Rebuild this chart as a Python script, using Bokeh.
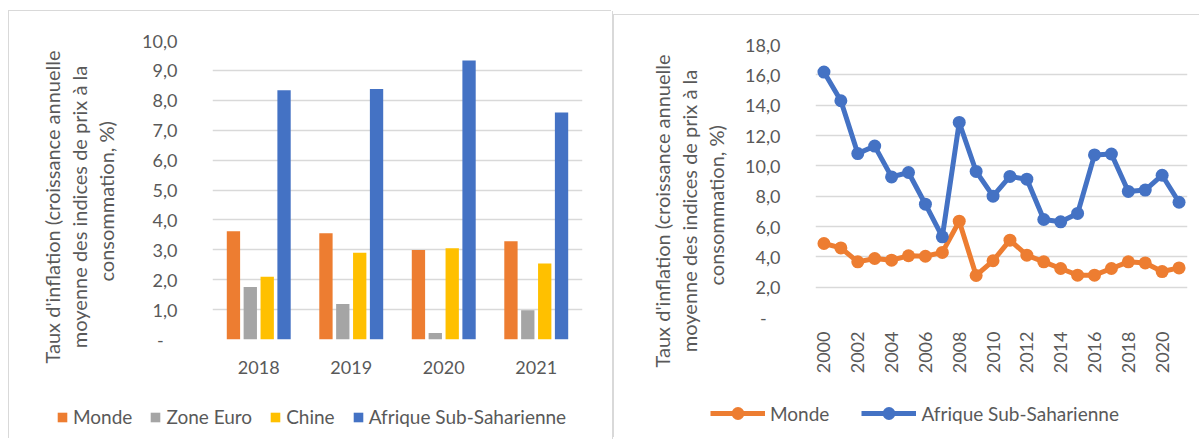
import math
from bokeh.plotting import figure
from bokeh.models import (FactorRange, Range1d, FixedTicker, Legend, LegendItem,
                          ColumnDataSource, Spacer)
from bokeh.transform import dodge
from bokeh.layouts import row, column
from bokeh.embed import file_html
from bokeh.resources import INLINE

# ---------------- data: bar chart ----------------
BAR_YEARS = ["2018", "2019", "2020", "2021"]
BAR_SERIES = ["Monde", "Zone Euro", "Chine", "Afrique Sub-Saharienne"]
monde_bar = [3.62, 3.55, 2.99, 3.29]
zone_euro_bar = [1.76, 1.19, 0.22, 0.98]
chine_bar = [2.10, 2.90, 3.05, 2.54]
afrique_bar = [8.34, 8.38, 9.33, 7.59]
BAR_Y_TICKS = [0, 1, 2, 3, 4, 5, 6, 7, 8, 9, 10]
BAR_Y_LABELS = ["-\u00a0\u00a0\u00a0", "1,0", "2,0", "3,0", "4,0", "5,0", "6,0", "7,0", "8,0", "9,0", "10,0"]

# ---------------- data: line chart ----------------
LINE_YEARS = [2000, 2001, 2002, 2003, 2004, 2005, 2006, 2007, 2008, 2009, 2010,
              2011, 2012, 2013, 2014, 2015, 2016, 2017, 2018, 2019, 2020, 2021]
monde_line = [4.88, 4.59, 3.67, 3.89, 3.78, 4.07, 4.04, 4.29, 6.35, 2.77, 3.74,
              5.10, 4.11, 3.67, 3.23, 2.79, 2.79, 3.23, 3.67, 3.60, 3.03, 3.27]
afrique_line = [16.18, 14.29, 10.81, 11.30, 9.27, 9.56, 7.47, 5.32, 12.86, 9.63, 8.00,
                9.30, 9.12, 6.46, 6.31, 6.86, 10.72, 10.78, 8.31, 8.40, 9.38, 7.60]
LINE_SERIES = ["Monde", "Afrique Sub-Saharienne"]
LINE_X_TICKS = [2000, 2002, 2004, 2006, 2008, 2010, 2012, 2014, 2016, 2018, 2020]
LINE_Y_TICKS = [0, 2, 4, 6, 8, 10, 12, 14, 16, 18]
LINE_Y_LABELS = ["-\u00a0\u00a0\u00a0", "2,0", "4,0", "6,0", "8,0", "10,0", "12,0", "14,0", "16,0", "18,0"]

Y_TITLE_LINES = ["Taux d'inflation (croissance annuelle",
                 "moyenne des indices de prix à la",
                 "consommation, %)"]

FONT = "Lato"
TXT = "#595959"
GRID = "#d9d9d9"
C_MONDE = "#ED7D31"
C_ZONE = "#A5A5A5"
C_CHINE = "#FFC000"
C_AFR = "#4472C4"

# leading no-break spaces centre the shorter title lines under the longest one
TITLE_LEAD = [0, 3, 16]
Y_TITLE = "\n".join("\u00a0" * n + s for n, s in zip(TITLE_LEAD, Y_TITLE_LINES))


def style_common(p, title_offset, title_standoff):
    p.frame_align = False
    p.background_fill_color = "white"
    p.border_fill_color = "white"
    p.outline_line_color = None
    p.xgrid.grid_line_color = None
    p.ygrid.grid_line_color = GRID
    p.ygrid.grid_line_width = 1.3
    for ax in (p.xaxis[0], p.yaxis[0]):
        ax.axis_line_color = None
        ax.major_tick_line_color = None
        ax.minor_tick_line_color = None
        ax.major_tick_out = 0
        ax.major_tick_in = 0
        ax.major_label_text_font = FONT
        ax.major_label_text_font_size = "18px"
        ax.major_label_text_color = TXT
    p.yaxis[0].major_label_standoff = 35
    t = p.title
    t.text = Y_TITLE
    t.align = "left"
    t.offset = title_offset
    t.standoff = title_standoff
    t.text_font = FONT
    t.text_font_size = "20px"
    t.text_font_style = "normal"
    t.text_line_height = 1.13
    t.text_color = TXT


def legend_fig(width, height):
    f = figure(width=width, height=height, x_range=Range1d(0, 1), y_range=Range1d(0, 1),
               output_backend="svg", toolbar_location=None,
               min_border_left=0, min_border_right=0, min_border_top=0, min_border_bottom=0)
    f.frame_align = False
    f.axis.visible = False
    f.grid.visible = False
    f.outline_line_color = None
    f.background_fill_color = "white"
    f.border_fill_color = "white"
    return f


# ---------------- bar chart ----------------
src = ColumnDataSource(data=dict(year=BAR_YEARS, monde=monde_bar, zone=zone_euro_bar,
                                 chine=chine_bar, afr=afrique_bar))
p1 = figure(x_range=FactorRange(*BAR_YEARS, range_padding=0), y_range=Range1d(0, 10),
            width=603, height=388, output_backend="svg", toolbar_location=None,
            title="", title_location="left",
            min_border_left=203, min_border_right=30, min_border_top=29, min_border_bottom=60)
bw = 0.144
offs = [-0.2735, -0.0915, 0.0915, 0.2735]
cols = ["monde", "zone", "chine", "afr"]
colors = [C_MONDE, C_ZONE, C_CHINE, C_AFR]
for c, o, col in zip(cols, offs, colors):
    p1.vbar(x=dodge("year", o, range=p1.x_range), top=c, width=bw, source=src,
            fill_color=col, line_color=None)
style_common(p1, -24, 42)
p1.yaxis[0].ticker = FixedTicker(ticks=BAR_Y_TICKS)
p1.yaxis[0].major_label_overrides = {t: l for t, l in zip(BAR_Y_TICKS, BAR_Y_LABELS)}
p1.xaxis[0].major_label_standoff = 21

# legend strip (swatch renderers sit outside the strip's visible range)
lf1 = legend_fig(603, 40)
leg_r1 = [lf1.vbar(x=[-5], top=[-5], width=0.1, fill_color=col, line_color=None) for col in colors]
leg1 = Legend(items=[LegendItem(label=n, renderers=[r]) for n, r in zip(BAR_SERIES, leg_r1)],
              orientation="horizontal", location=(47, 11),
              glyph_width=12, glyph_height=12, label_standoff=5, spacing=17,
              padding=0, margin=0, border_line_color=None, background_fill_alpha=0,
              label_text_font=FONT, label_text_font_size="19px", label_text_color=TXT)
lf1.add_layout(leg1, "center")

# ---------------- line chart ----------------
src2 = ColumnDataSource(data=dict(year=LINE_YEARS, monde=monde_line, afr=afrique_line))
p2 = figure(x_range=Range1d(LINE_YEARS[0] - 0.5, LINE_YEARS[-1] + 0.5), y_range=Range1d(0, 18),
            width=586, height=383, output_backend="svg", toolbar_location=None,
            title="", title_location="left",
            min_border_left=201, min_border_right=13, min_border_top=29, min_border_bottom=81)
style_common(p2, -50, 28)
p2.line("year", "monde", source=src2, line_color=C_MONDE, line_width=5)
p2.scatter("year", "monde", source=src2, size=13, fill_color=C_MONDE, line_color=None)
p2.line("year", "afr", source=src2, line_color=C_AFR, line_width=5)
p2.scatter("year", "afr", source=src2, size=13, fill_color=C_AFR, line_color=None)
p2.yaxis[0].ticker = FixedTicker(ticks=LINE_Y_TICKS)
p2.yaxis[0].major_label_overrides = {t: l for t, l in zip(LINE_Y_TICKS, LINE_Y_LABELS)}
p2.xaxis[0].ticker = FixedTicker(ticks=LINE_X_TICKS)
p2.xaxis[0].major_label_orientation = math.pi / 2
p2.xaxis[0].major_label_standoff = 14

lf2 = legend_fig(586, 40)
lm = lf2.line(x=[-5, -4], y=[-5, -5], line_color=C_MONDE, line_width=5)
sm = lf2.scatter(x=[-5], y=[-5], size=13, fill_color=C_MONDE, line_color=None)
la = lf2.line(x=[-5, -4], y=[-5, -5], line_color=C_AFR, line_width=5)
sa = lf2.scatter(x=[-5], y=[-5], size=13, fill_color=C_AFR, line_color=None)
leg2 = Legend(items=[LegendItem(label=LINE_SERIES[0], renderers=[lm, sm]),
                     LegendItem(label=LINE_SERIES[1], renderers=[la, sa])],
              orientation="horizontal", location=(96, 9),
              glyph_width=55, glyph_height=32, label_standoff=5, spacing=32,
              padding=0, margin=0, border_line_color=None, background_fill_alpha=0,
              label_text_font=FONT, label_text_font_size="19px", label_text_color=TXT)
lf2.add_layout(leg2, "center")

left_inner = column(p1, lf1, spacing=0,
                    styles={"box-shadow": "-1px -1px 0 0 #d9d9d9, 1px 0 0 0 #d9d9d9"})
right_inner = column(p2, lf2, spacing=0,
                     styles={"box-shadow": "-1px -1px 0 0 #d9d9d9"})
left = column(Spacer(width=603, height=11), left_inner, spacing=0)
right = column(Spacer(width=586, height=15), right_inner, spacing=0)
layout = row(Spacer(width=9, height=1), left, Spacer(width=2, height=1), right, spacing=0)
open("out.html", "w").write(file_html(layout, INLINE))
